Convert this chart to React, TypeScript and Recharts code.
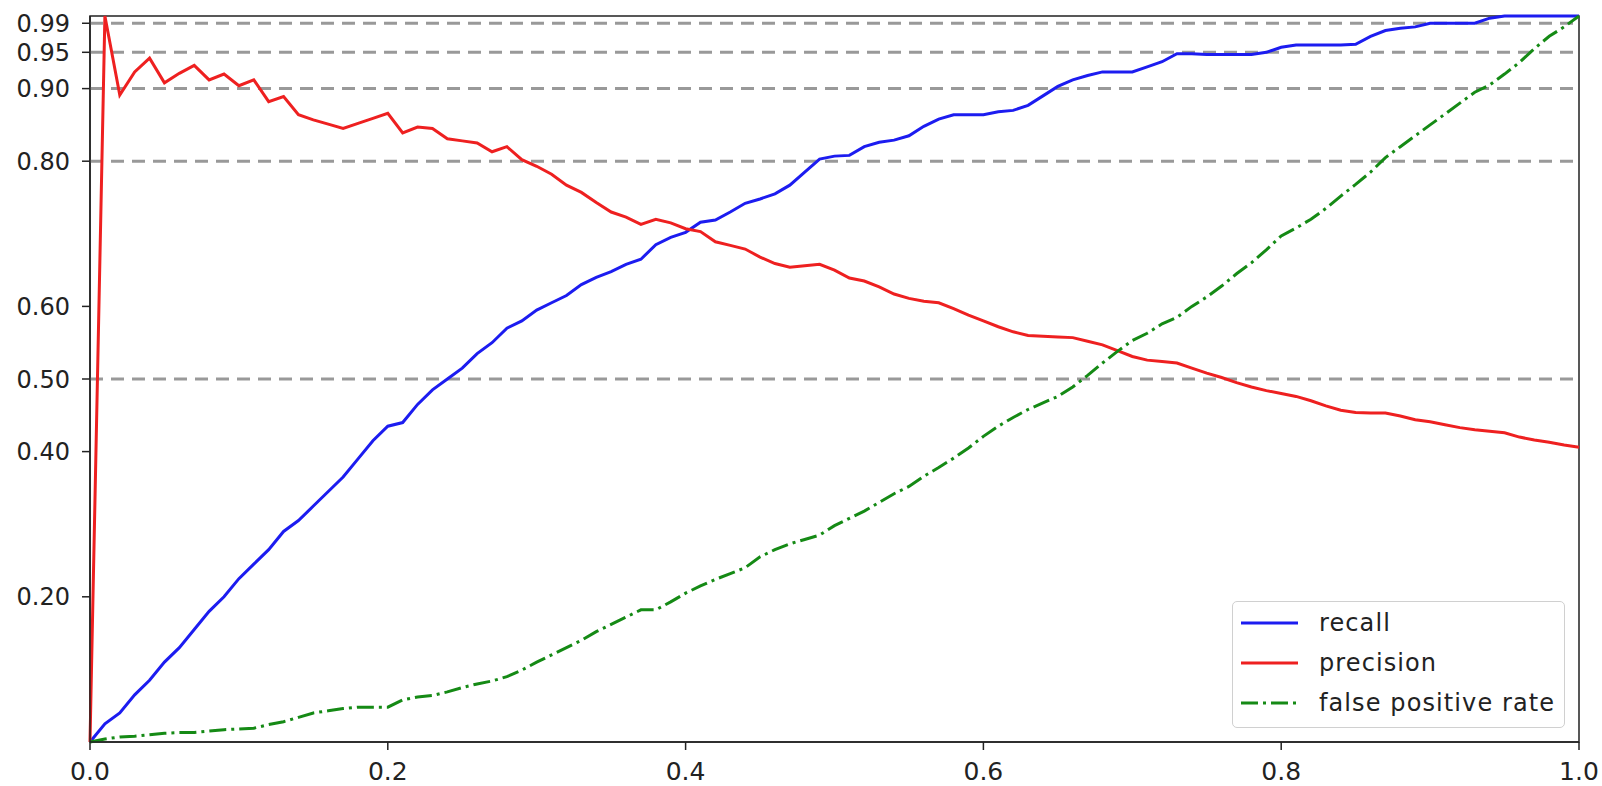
import { LineChart, Line, XAxis, YAxis, ReferenceLine, ReferenceArea } from 'recharts';

const thresholds = [
  0, 0.01, 0.02, 0.03, 0.04, 0.05, 0.06, 0.07, 0.08, 0.09,
  0.1, 0.11, 0.12, 0.13, 0.14, 0.15, 0.16, 0.17, 0.18, 0.19,
  0.2, 0.21, 0.22, 0.23, 0.24, 0.25, 0.26, 0.27, 0.28, 0.29,
  0.3, 0.31, 0.32, 0.33, 0.34, 0.35, 0.36, 0.37, 0.38, 0.39,
  0.4, 0.41, 0.42, 0.43, 0.44, 0.45, 0.46, 0.47, 0.48, 0.49,
  0.5, 0.51, 0.52, 0.53, 0.54, 0.55, 0.56, 0.57, 0.58, 0.59,
  0.6, 0.61, 0.62, 0.63, 0.64, 0.65, 0.66, 0.67, 0.68, 0.69,
  0.7, 0.71, 0.72, 0.73, 0.74, 0.75, 0.76, 0.77, 0.78, 0.79,
  0.8, 0.81, 0.82, 0.83, 0.84, 0.85, 0.86, 0.87, 0.88, 0.89,
  0.9, 0.91, 0.92, 0.93, 0.94, 0.95, 0.96, 0.97, 0.98, 0.99,
  1.0,
];

const recall = [
  0, 0.025, 0.04, 0.065, 0.085, 0.11, 0.13, 0.155, 0.18, 0.2,
  0.225, 0.245, 0.265, 0.29, 0.305, 0.325, 0.345, 0.365, 0.39, 0.415,
  0.435, 0.44, 0.465, 0.485, 0.5, 0.515, 0.535, 0.55, 0.57, 0.58,
  0.595, 0.605, 0.615, 0.63, 0.64, 0.648, 0.658, 0.665, 0.685, 0.695,
  0.702, 0.716, 0.719, 0.73, 0.742, 0.748, 0.755, 0.767, 0.785, 0.803,
  0.807, 0.808, 0.82, 0.826, 0.829, 0.835, 0.848, 0.858, 0.864, 0.864,
  0.864, 0.868, 0.87, 0.877, 0.89, 0.903, 0.912, 0.918, 0.923, 0.923,
  0.923, 0.93, 0.937, 0.948, 0.948, 0.947, 0.947, 0.947, 0.947, 0.95,
  0.957, 0.96, 0.96, 0.96, 0.96, 0.961, 0.972, 0.98, 0.983, 0.985,
  0.99, 0.99, 0.99, 0.99, 0.997, 1.0, 1.0, 1.0, 1.0, 1.0,
  1.0,
];

const precision = [
  0, 1.0, 0.891, 0.923, 0.942, 0.908, 0.921, 0.932, 0.912, 0.92,
  0.904, 0.912, 0.882, 0.889, 0.864, 0.857, 0.851, 0.845, 0.852, 0.859,
  0.866, 0.839, 0.847, 0.845, 0.831, 0.828, 0.825, 0.813, 0.82, 0.802,
  0.793, 0.782, 0.767, 0.757, 0.743, 0.73, 0.723, 0.713, 0.72, 0.715,
  0.707, 0.703, 0.689, 0.684, 0.679, 0.668, 0.659, 0.654, 0.656, 0.658,
  0.65, 0.639, 0.635, 0.627, 0.617, 0.611, 0.607, 0.605, 0.597, 0.588,
  0.58, 0.572, 0.565, 0.56, 0.559, 0.558, 0.557, 0.552, 0.547, 0.539,
  0.531, 0.526, 0.524, 0.522, 0.515, 0.508, 0.502, 0.495, 0.489, 0.484,
  0.48, 0.476, 0.47, 0.463, 0.457, 0.454, 0.453, 0.453, 0.449, 0.444,
  0.441, 0.437, 0.433, 0.43, 0.428, 0.426, 0.42, 0.416, 0.413, 0.409,
  0.406,
];

const falsePositiveRate = [
  0, 0.004, 0.007, 0.008, 0.01, 0.012, 0.013, 0.013, 0.015, 0.017,
  0.018, 0.019, 0.024, 0.028, 0.034, 0.04, 0.043, 0.046, 0.048, 0.048,
  0.048, 0.058, 0.062, 0.064, 0.069, 0.075, 0.08, 0.084, 0.09, 0.099,
  0.11, 0.12, 0.13, 0.14, 0.152, 0.162, 0.172, 0.182, 0.182, 0.193,
  0.205, 0.215, 0.224, 0.232, 0.24, 0.255, 0.265, 0.273, 0.279, 0.285,
  0.298, 0.308, 0.318, 0.33, 0.342, 0.352, 0.366, 0.378, 0.391, 0.405,
  0.421, 0.435, 0.447, 0.458, 0.467, 0.476, 0.489, 0.505, 0.522, 0.538,
  0.553, 0.563, 0.576, 0.585, 0.6, 0.613, 0.628, 0.645, 0.66, 0.678,
  0.697, 0.708, 0.72, 0.735, 0.752, 0.768, 0.785, 0.805, 0.82, 0.835,
  0.85, 0.865, 0.88, 0.895, 0.905, 0.92, 0.936, 0.955, 0.972, 0.985,
  1.0,
];

const xTicks = [0, 0.2, 0.4, 0.6, 0.8, 1.0];
const yTicks = [0.2, 0.4, 0.5, 0.6, 0.8, 0.9, 0.95, 0.99];
const guideLevels = [0.5, 0.8, 0.9, 0.95, 0.99];

const data = thresholds.map((t, i) => ({
  t,
  recall: recall[i],
  precision: precision[i],
  fpr: falsePositiveRate[i],
}));

const FONT = '"DejaVu Sans", sans-serif';
const BLUE = '#1c1cf0';
const RED = '#ee2020';
const GREEN = '#158a15';
const FPR_DASH = '17 5 3 5';

const legendItems = [
  { label: 'recall', color: BLUE, dash: undefined },
  { label: 'precision', color: RED, dash: undefined },
  { label: 'false positive rate', color: GREEN, dash: FPR_DASH },
];

function LegendBox() {
  return (
    <div
      style={{
        position: 'absolute',
        left: 1232,
        top: 601,
        width: 333,
        height: 127,
        boxSizing: 'border-box',
        border: '1.5px solid #d0d0d0',
        borderRadius: 5,
        background: 'rgba(255,255,255,0.85)',
        fontFamily: FONT,
        fontSize: 24,
        color: '#222',
        paddingTop: 1,
        letterSpacing: 1.1,
      }}
    >
      {legendItems.map((it) => (
        <div key={it.label} style={{ display: 'flex', alignItems: 'center', height: 40 }}>
          <svg width={86} height={10} style={{ flex: 'none' }}>
            <line x1={8} y1={5} x2={65} y2={5} stroke={it.color} strokeWidth={3} strokeDasharray={it.dash} />
          </svg>
          <span style={{ lineHeight: '40px' }}>{it.label}</span>
        </div>
      ))}
    </div>
  );
}

export default function App() {
  return (
    <div style={{ position: 'absolute', left: 0, top: 0, width: 1602, height: 786, background: '#fff' }}>
      <LineChart
        width={1602}
        height={786}
        data={data}
        margin={{ top: 16, right: 23, left: 0, bottom: 0 }}
        style={{ fontFamily: FONT }}
      >
        <XAxis
          dataKey="t"
          type="number"
          domain={[0, 1]}
          ticks={xTicks}
          tickFormatter={(v: number) => v.toFixed(1)}
          height={44}
          tickSize={8}
          tickMargin={12}
          stroke="#222"
          strokeWidth={1.5}
          tick={{ fill: '#222', fontSize: 25 }}
        />
        <YAxis
          type="number"
          domain={[0, 1]}
          ticks={yTicks}
          tickFormatter={(v: number) => v.toFixed(2)}
          width={90}
          tickSize={8}
          tickMargin={12}
          stroke="#222"
          strokeWidth={1.5}
          tick={{ fill: '#222', fontSize: 24 }}
          interval={0}
        />
        {guideLevels.map((v) => (
          <ReferenceLine key={v} y={v} stroke="#999" strokeWidth={3} strokeDasharray="13 8" />
        ))}
        <Line type="linear" dataKey="recall" stroke={BLUE} strokeWidth={3} dot={false} isAnimationActive={false} />
        <Line type="linear" dataKey="precision" stroke={RED} strokeWidth={3} dot={false} isAnimationActive={false} />
        <Line
          type="linear"
          dataKey="fpr"
          stroke={GREEN}
          strokeWidth={3}
          strokeDasharray={FPR_DASH}
          dot={false}
          isAnimationActive={false}
        />
        <ReferenceArea x1={0} x2={1} y1={0} y2={1} fill="none" stroke="#222" strokeWidth={1.5} ifOverflow="visible" />
      </LineChart>
      <LegendBox />
    </div>
  );
}
